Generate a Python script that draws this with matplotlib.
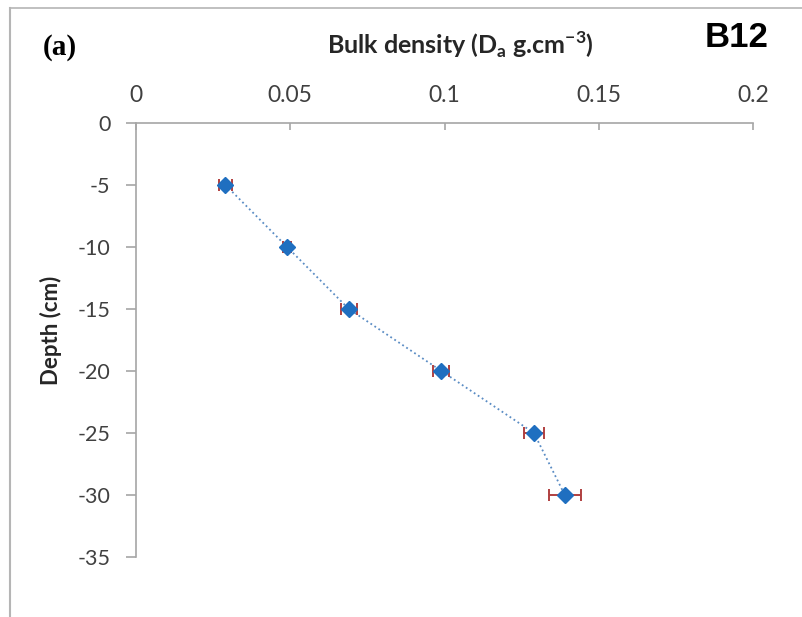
import matplotlib.pyplot as plt
from matplotlib.lines import Line2D

# bulk density profile, site B12
depth = [-5, -10, -15, -20, -25, -30]
density = [0.029, 0.049, 0.069, 0.099, 0.129, 0.139]
density_err = [0.0022, 0.0012, 0.0026, 0.0026, 0.0033, 0.0052]
xticks = [0, 0.05, 0.1, 0.15, 0.2]
xtick_labels = ['0', '0.05', '0.1', '0.15', '0.2']
yticks = [0, -5, -10, -15, -20, -25, -30, -35]

plt.rcParams['font.family'] = ['Lato', 'DejaVu Sans']
plt.rcParams['axes.unicode_minus'] = False

fig = plt.figure(figsize=(8.02, 6.17), dpi=100)
ax = fig.add_axes([0.1696, 0.0972, 0.7693, 0.7034])

ax.plot(density, depth, linestyle=':', color='#5a8cc4', linewidth=1.3, zorder=2)
ax.errorbar(density, depth, xerr=density_err, fmt='none', ecolor='#b04040',
            elinewidth=1.4, capsize=4, capthick=1.4, zorder=3)
ax.plot(density, depth, linestyle='none', marker='D', markersize=8.5,
        color='#1f6fc0', zorder=4)

ax.set_xlim(0, 0.2)
ax.set_ylim(-35, 0)
ax.xaxis.tick_top()
ax.set_xticks(xticks)
ax.set_xticklabels(xtick_labels)
ax.set_yticks(yticks)

for s in ['bottom', 'right']:
    ax.spines[s].set_visible(False)
for s in ['top', 'left']:
    ax.spines[s].set_color('#a6a6a6')
    ax.spines[s].set_linewidth(1.2)

ax.tick_params(axis='x', direction='in', length=5, width=1.2, color='#a6a6a6',
               pad=12, labelsize=16.5, labelcolor='#404040')
ax.tick_params(axis='y', direction='out', length=7, width=1.2, color='#a6a6a6',
               pad=11.5, labelsize=15.5, labelcolor='#404040')

fig.text(0.0636, 0.465, 'Depth (cm)', rotation=90, ha='center', va='center',
         fontsize=16, fontweight='bold', color='#262626')
fig.text(0.5736, 0.927, r'Bulk density (D$_\mathregular{a}$ g.cm$^\mathregular{-3}$)',
         ha='center', va='center', fontsize=18, fontweight='bold', color='#262626')
fig.text(0.075, 0.923, '(a)', ha='center', va='center', fontsize=21,
         fontweight='bold', family=['Liberation Serif', 'DejaVu Serif'])
fig.text(0.918, 0.94, 'B12', ha='center', va='center', fontsize=25,
         fontweight='bold', family=['Liberation Sans', 'DejaVu Sans'])

# outer frame lines (top and left)
fig.add_artist(Line2D([0.0125, 0.0125], [0, 0.987], color='#b5b5b5', linewidth=1.5,
                      transform=fig.transFigure))
fig.add_artist(Line2D([0.0125, 1], [0.987, 0.987], color='#b5b5b5', linewidth=1.2,
                      transform=fig.transFigure))

fig.savefig('out.png', dpi=100)
